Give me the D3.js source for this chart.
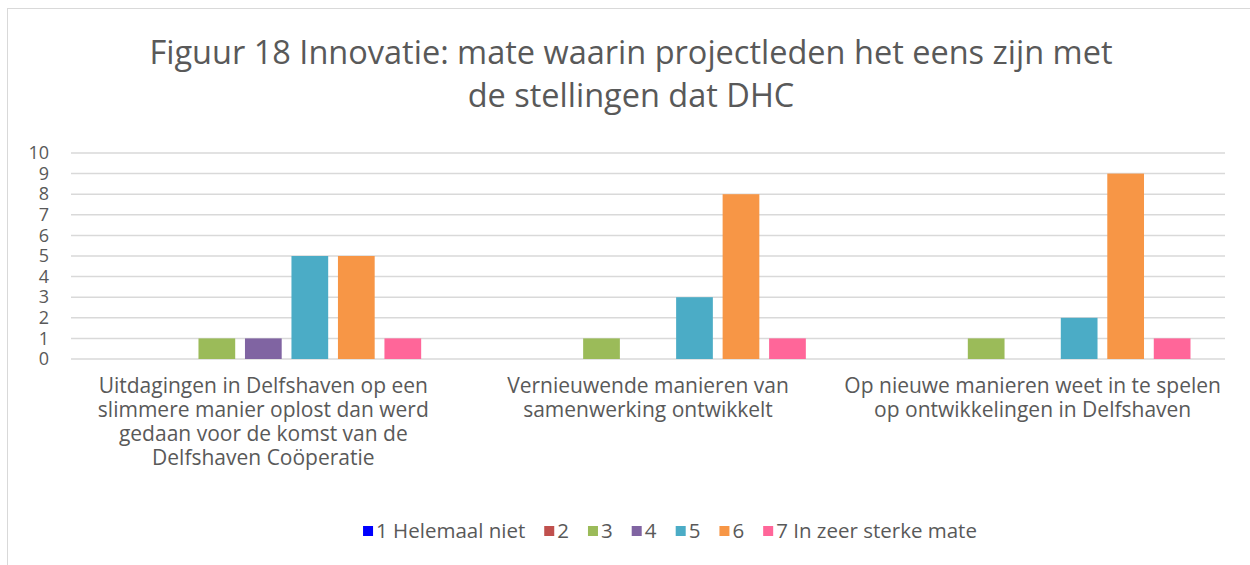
<!DOCTYPE html>
<html>
<head>
<meta charset="utf-8">
<script src="https://cdn.jsdelivr.net/npm/d3@7"></script>
<style>
  body { margin: 0; background: #fff; }
  svg { font-family: "Open Sans", "Noto Sans", sans-serif; }
</style>
</head>
<body>
<div id="chart"></div>
<script>
// categories (multi-line labels) and series
const categories = ["c1", "c2", "c3"]
const categoryLines = [
    ["Uitdagingen in Delfshaven op een", "slimmere manier oplost dan werd", "gedaan voor de komst van de", "Delfshaven Coöperatie"],
    ["Vernieuwende manieren van", "samenwerking ontwikkelt"],
    ["Op nieuwe manieren weet in te spelen", "op ontwikkelingen in Delfshaven"]
]
const seriesNames = ["1 Helemaal niet", "2", "3", "4", "5", "6", "7 In zeer sterke mate"]
const seriesColors = ["#0000FF", "#C0504D", "#9BBB59", "#8064A2", "#4BACC6", "#F79646", "#FF6699"]
const s1 = [0, 0, 0]
const s2 = [0, 0, 0]
const s3 = [1, 1, 1]
const s4 = [1, 0, 0]
const s5 = [5, 3, 2]
const s6 = [5, 8, 9]
const s7 = [1, 1, 1]
const seriesValues = [s1, s2, s3, s4, s5, s6, s7]
const yTicks = [0, 1, 2, 3, 4, 5, 6, 7, 8, 9, 10]
const titleLines = ["Figuur 18 Innovatie: mate waarin projectleden het eens zijn met", "de stellingen dat DHC"]

const width = 1250, height = 565
const textColor = "#595959"

const svg = d3.select("#chart").append("svg")
    .attr("width", width)
    .attr("height", height)

// chart frame
svg.append("rect")
    .attr("x", 7.5).attr("y", 8.5)
    .attr("width", 1260).attr("height", 600)
    .attr("fill", "none")
    .attr("stroke", "#d9d9d9")

// title
svg.append("g").selectAll("text")
    .data(titleLines)
    .enter()
    .append("text")
        .attr("x", 631)
        .attr("y", (d, i) => 64 + i * 43)
        .attr("text-anchor", "middle")
        .attr("fill", textColor)
        .style("font-size", "32.5px")
        .text(d => d)

const x0 = d3.scaleBand()
    .domain(categories)
    .range([71, 1225])

const x1 = d3.scaleBand()
    .domain(d3.range(seriesNames.length))
    .range([34.5, x0.bandwidth() - 34.5])
    .paddingInner(0.21)

const y = d3.scaleLinear()
    .domain([0, 10])
    .range([359, 153])

// gridlines
svg.append("g").selectAll("line")
    .data(yTicks)
    .enter()
    .append("line")
        .attr("x1", 71).attr("x2", 1225)
        .attr("y1", d => y(d)).attr("y2", d => y(d))
        .attr("stroke", "#d9d9d9")
        .attr("stroke-width", 1.5)

// y axis labels
const yAxis = svg.append("g")
    .attr("transform", "translate(49,0)")
    .call(d3.axisLeft(y).tickValues(yTicks).tickSize(0).tickPadding(0))
yAxis.select(".domain").remove()
yAxis.selectAll("text")
    .attr("fill", textColor)
    .style("font-size", "18px")
    .style("font-family", "'Open Sans', sans-serif")

// bars
const groups = svg.append("g").selectAll("g")
    .data(categories)
    .enter()
    .append("g")
        .attr("transform", d => "translate(" + x0(d) + ",0)")

groups.selectAll("rect")
    .data((d, ci) => seriesValues.map((vals, si) => ({si: si, v: vals[ci]})))
    .enter()
    .append("rect")
        .attr("x", d => x1(d.si))
        .attr("width", x1.bandwidth())
        .attr("y", d => y(d.v))
        .attr("height", d => y(0) - y(d.v))
        .attr("fill", d => seriesColors[d.si])
        .style("display", d => d.v > 0 ? null : "none")

// category labels
svg.append("g").selectAll("text")
    .data(categories)
    .enter()
    .append("text")
        .attr("fill", textColor)
        .attr("text-anchor", "middle")
        .style("font-size", "21px")
        .each(function(d, i) {
            d3.select(this).selectAll("tspan")
                .data(categoryLines[i])
                .enter()
                .append("tspan")
                    .attr("x", x0(d) + x0.bandwidth() / 2)
                    .attr("y", (t, j) => 393 + j * 24)
                    .text(t => t)
        })

// legend
const legend = svg.append("g")
const items = legend.selectAll("g")
    .data(seriesNames)
    .enter()
    .append("g")
items.append("rect")
    .attr("width", 10).attr("height", 10)
    .attr("y", -12)
    .attr("fill", (d, i) => seriesColors[i])
items.append("text")
    .attr("x", 13)
    .attr("fill", textColor)
    .style("font-size", "20.5px")
    .text(d => d)

let pos = 0
items.each(function() {
    const w = this.getBBox().width
    d3.select(this).attr("transform", "translate(" + pos + ",0)")
    pos += w + 19
})
pos -= 19
legend.attr("transform", "translate(" + (670 - pos / 2) + ",538)")
</script>
</body>
</html>
